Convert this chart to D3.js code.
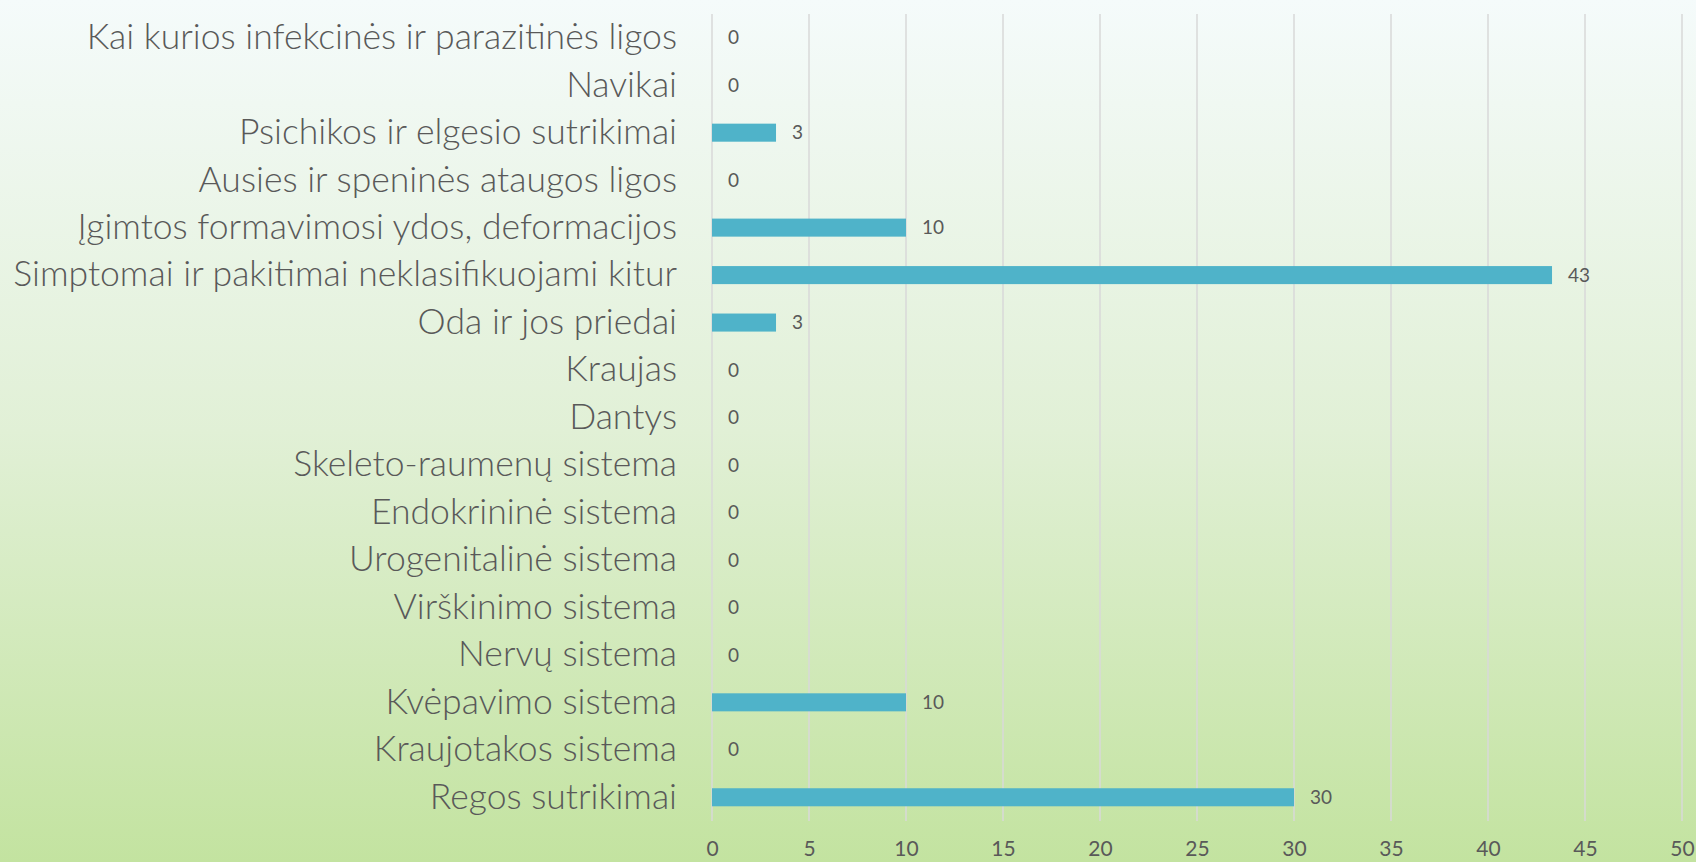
<!DOCTYPE html>
<html>
<head>
<meta charset="utf-8">
<script src="https://cdn.jsdelivr.net/npm/d3@7"></script>
<style>
  html, body { margin: 0; padding: 0; overflow: hidden; }
  svg { display: block; }
</style>
</head>
<body>
<svg id="chart"></svg>
<script>
const categories = [
  'Kai kurios infekcinės ir parazitinės ligos',
  'Navikai',
  'Psichikos ir elgesio sutrikimai',
  'Ausies ir speninės ataugos ligos',
  'Įgimtos formavimosi ydos, deformacijos',
  'Simptomai ir pakitimai neklasifikuojami kitur',
  'Oda ir jos priedai',
  'Kraujas',
  'Dantys',
  'Skeleto-raumenų sistema',
  'Endokrininė sistema',
  'Urogenitalinė sistema',
  'Virškinimo sistema',
  'Nervų sistema',
  'Kvėpavimo sistema',
  'Kraujotakos sistema',
  'Regos sutrikimai'
];
// bar lengths (labels are shown rounded)
const values = [0, 0, 3.3, 0, 10, 43.3, 3.3, 0, 0, 0, 0, 0, 0, 0, 10, 0, 30];
const xTicks = [0, 5, 10, 15, 20, 25, 30, 35, 40, 45, 50];

const width = 1696, height = 862;
const margin = { top: 14, right: 14, bottom: 41, left: 712 };
const textColor = '#595959';

const svg = d3.select('#chart').attr('width', width).attr('height', height);

const defs = svg.append('defs');
const grad = defs.append('linearGradient').attr('id', 'bg')
  .attr('x1', 0).attr('y1', 0).attr('x2', 0).attr('y2', 1);
grad.append('stop').attr('offset', '0%').attr('stop-color', '#f5fbfb');
grad.append('stop').attr('offset', '12%').attr('stop-color', '#f0f8f2');
grad.append('stop').attr('offset', '50%').attr('stop-color', '#e1f0d6');
grad.append('stop').attr('offset', '100%').attr('stop-color', '#c3e3a0');
svg.append('rect').attr('width', width).attr('height', height).attr('fill', 'url(#bg)');

const x = d3.scaleLinear().domain([0, 50]).range([margin.left, 1682]);
const y = d3.scaleBand().domain(categories)
  .range([margin.top, height - margin.bottom]).paddingInner(0.62).paddingOuter(0.31);

// gridlines
svg.append('g')
  .selectAll('line')
  .data(xTicks)
  .join('line')
  .attr('x1', d => x(d)).attr('x2', d => x(d))
  .attr('y1', margin.top).attr('y2', height - margin.bottom)
  .attr('stroke', '#d9d9d9').attr('stroke-width', 1.5);

// bars
svg.append('g')
  .selectAll('rect')
  .data(values)
  .join('rect')
  .attr('x', x(0))
  .attr('y', (d, i) => y(categories[i]))
  .attr('width', d => x(d) - x(0))
  .attr('height', y.bandwidth())
  .attr('fill', '#4fb3c9');

// value labels
svg.append('g')
  .selectAll('text')
  .data(values)
  .join('text')
  .attr('x', d => x(d) + 16)
  .attr('y', (d, i) => y(categories[i]) + y.bandwidth() / 2)
  .attr('dy', '0.35em')
  .attr('font-family', 'Lato, "Open Sans", sans-serif')
  .attr('font-size', 19)
  .attr('fill', textColor)
  .text(d => d3.format('.0f')(d));

// category axis labels
const catAxis = d3.axisLeft(y).tickSize(0).tickPadding(35);
const gy = svg.append('g')
  .attr('transform', `translate(${margin.left},0)`)
  .call(catAxis);
gy.select('.domain').remove();
gy.selectAll('text')
  .attr('font-family', 'Lato, sans-serif')
  .attr('font-weight', 300)
  .attr('fill', textColor);

// fit label size to reference width
let fs = 34;
gy.selectAll('text').attr('font-size', fs);
let maxW = d3.max(gy.selectAll('text').nodes(), n => n.getComputedTextLength());
fs = fs * 664 / maxW;
gy.selectAll('text').attr('font-size', fs);

// value axis
const xAxis = d3.axisBottom(x).tickValues(xTicks).tickSize(0).tickPadding(20);
const gx = svg.append('g')
  .attr('transform', `translate(0,${height - margin.bottom})`)
  .call(xAxis);
gx.select('.domain').remove();
gx.selectAll('text')
  .attr('font-family', 'Lato, sans-serif')
  .attr('font-size', 21)
  .attr('fill', textColor);
</script>
</body>
</html>
